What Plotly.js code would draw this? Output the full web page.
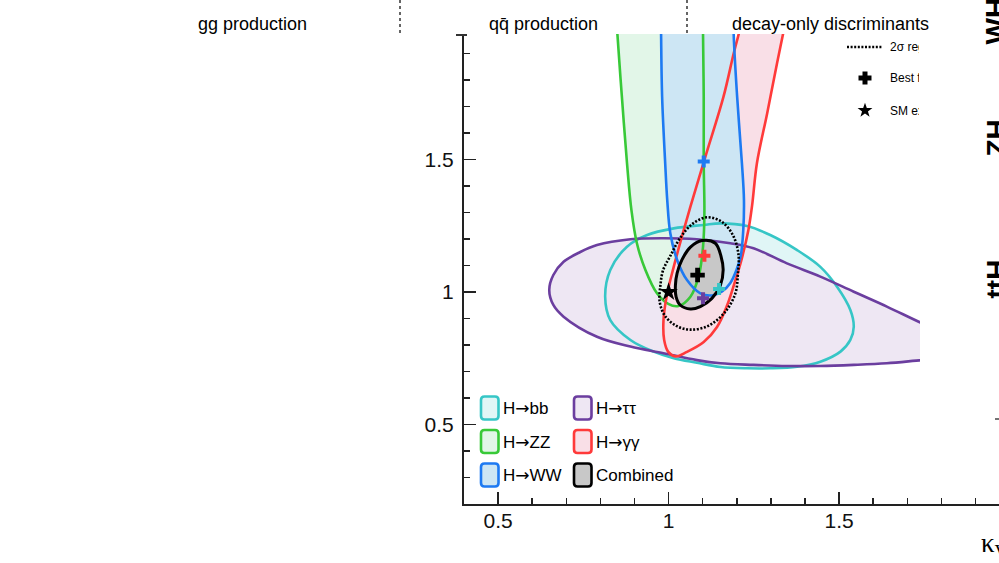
<!DOCTYPE html>
<html>
<head>
<meta charset="utf-8">
<script src="https://cdn.plot.ly/plotly-3.0.1.min.js"></script>
<style>
  html, body { margin: 0; padding: 0; background: #ffffff; }
  #chart { width: 999px; height: 563px; }
</style>
</head>
<body>
<div id="chart"></div>
<script>
// ---- 68% CL contours, one per decay channel (x = kappa_V, y = kappa_f) ----
const bbX = [0.814, 0.829, 0.878, 0.937, 1.015, 1.103, 1.152, 1.230, 1.298, 1.377, 1.445, 1.494, 1.533, 1.543, 1.533, 1.504, 1.445, 1.377, 1.298, 1.230, 1.152, 1.083, 1.015, 0.956, 0.888, 0.829];
const bbY = [0.982, 1.083, 1.171, 1.215, 1.240, 1.253, 1.259, 1.249, 1.215, 1.158, 1.095, 1.020, 0.932, 0.869, 0.819, 0.775, 0.737, 0.718, 0.712, 0.712, 0.717, 0.733, 0.750, 0.775, 0.819, 0.894];

const tautauX = [0.650, 0.662, 0.692, 0.741, 0.790, 0.888, 0.985, 1.083, 1.181, 1.249, 1.347, 1.445, 1.543, 1.640, 1.743, 1.855, 1.943, 1.855, 1.743, 1.640, 1.543, 1.445, 1.347, 1.249, 1.152, 1.083, 0.985, 0.888, 0.790, 0.692, 0.662];
const tautauY = [1.008, 1.064, 1.114, 1.151, 1.177, 1.199, 1.203, 1.199, 1.184, 1.165, 1.108, 1.058, 1.001, 0.945, 0.882, 0.819, 0.781, 0.755, 0.743, 0.731, 0.725, 0.721, 0.721, 0.725, 0.731, 0.743, 0.769, 0.794, 0.831, 0.907, 0.951];

const zzX = [0.845, 0.850, 0.863, 0.878, 0.891, 0.907, 0.932, 0.966, 0.999, 1.029, 1.064, 1.088, 1.098, 1.103, 1.105, 1.103, 1.103, 1.101, 1.100];
const zzY = [2.100, 1.970, 1.737, 1.486, 1.309, 1.184, 1.083, 0.995, 0.955, 0.947, 0.982, 1.058, 1.133, 1.209, 1.309, 1.486, 1.737, 1.970, 2.100];

const ggX = [1.233, 1.205, 1.191, 1.161, 1.108, 1.064, 1.039, 1.015, 0.995, 0.985, 0.987, 0.999, 1.020, 1.054, 1.103, 1.142, 1.172, 1.196, 1.215, 1.234, 1.245, 1.259, 1.289, 1.318, 1.335, 1.357];
const ggY = [2.100, 1.970, 1.901, 1.737, 1.511, 1.322, 1.209, 1.095, 0.989, 0.894, 0.819, 0.774, 0.757, 0.774, 0.811, 0.868, 0.951, 1.045, 1.128, 1.234, 1.328, 1.486, 1.674, 1.863, 1.970, 2.100];

const wwX = [0.977, 0.978, 0.981, 0.990, 0.996, 1.005, 1.025, 1.054, 1.093, 1.127, 1.157, 1.181, 1.199, 1.212, 1.219, 1.221, 1.215, 1.201, 1.191, 1.190];
const wwY = [2.100, 1.970, 1.737, 1.486, 1.347, 1.222, 1.121, 1.045, 0.995, 0.987, 1.002, 1.034, 1.083, 1.140, 1.234, 1.347, 1.486, 1.737, 1.970, 2.100];

const combX = [1.098, 1.137, 1.154, 1.160, 1.152, 1.127, 1.093, 1.064, 1.034, 1.022, 1.020, 1.025, 1.039, 1.064];
const combY = [1.194, 1.184, 1.133, 1.083, 1.026, 0.976, 0.945, 0.936, 0.951, 0.982, 1.026, 1.071, 1.121, 1.169];

// combined 2 sigma region
const comb2X = [1.113, 1.157, 1.190, 1.205, 1.203, 1.196, 1.166, 1.116, 1.064, 1.023, 0.990, 0.974, 0.976, 0.984, 1.005, 1.034, 1.070];
const comb2Y = [1.282, 1.264, 1.211, 1.140, 1.064, 0.996, 0.925, 0.872, 0.858, 0.872, 0.909, 0.962, 1.026, 1.083, 1.136, 1.204, 1.257];

// best-fit points per channel and combined, SM expectation
const bestNames = ['H→bb', 'H→ττ', 'H→γγ', 'H→WW', 'Combined'];
const bestX = [1.148, 1.101, 1.105, 1.103, 1.085];
const bestY = [1.011, 0.976, 1.137, 1.492, 1.064];
const smX = [1.0];
const smY = [1.0];

// axis ticks
const xTickVals = [0.5, 1, 1.5];
const xTickText = ['0.5', '1', '1.5'];
const yTickVals = [0.5, 1, 1.5];
const yTickText = ['0.5', '1', '1.5'];

// header columns
const headerLabels = ['gg production', 'qq\u0304 production', 'decay-only discriminants'];
const sideLabels = ['WH', 'ZH', 'ttH'];

// ---- styling ----
const COL = {
  bb:     { line: '#36c6c6', fill: '#e0f6f6' },
  tautau: { line: '#6b3e9f', fill: '#eee7f3' },
  zz:     { line: '#38c938', fill: '#e2f6e8' },
  gg:     { line: '#ff3a3a', fill: '#f9dfe7' },
  ww:     { line: '#1e7af2', fill: '#cde6f4' },
  comb:   { line: '#000000', fill: '#c8c8c8' }
};
const SANS = 'Liberation Sans, Arial, Helvetica, sans-serif';
const ARROW = '<span style="font-family:DejaVu Sans">→</span>';

// plot frame in pixels
const W = 999, H = 563;
const L = 464, R = 999, T = 34, B = 504;
const XR = [0.4, 0.4 + (R - L) / 341];
const YR = [0.2, 0.2 + (B - T) / 265];
const px = v => (v - L) / (R - L);
const py = v => (B - v) / (B - T);

const closed = a => a.concat([a[0]]);

const contours = [
  { x: bbX, y: bbY, c: COL.bb },
  { x: tautauX, y: tautauY, c: COL.tautau },
  { x: zzX, y: zzY, c: COL.zz },
  { x: ggX, y: ggY, c: COL.gg },
  { x: wwX, y: wwY, c: COL.ww },
  { x: combX, y: combY, c: COL.comb }
];

const traces = [];
// fills first so every outline stays visible
contours.forEach(k => traces.push({
  type: 'scatter', mode: 'lines', x: closed(k.x), y: closed(k.y),
  fill: 'toself', fillcolor: k.c.fill,
  line: { width: 0, shape: 'spline', smoothing: 1, color: k.c.fill },
  hoverinfo: 'skip'
}));
contours.slice(0, 5).forEach(k => traces.push({
  type: 'scatter', mode: 'lines', x: closed(k.x), y: closed(k.y),
  line: { width: 2.6, shape: 'spline', smoothing: 1, color: k.c.line },
  hoverinfo: 'skip'
}));
traces.push({
  type: 'scatter', mode: 'lines', x: closed(comb2X), y: closed(comb2Y),
  line: { width: 2.6, shape: 'spline', smoothing: 1, color: '#000', dash: '2px,1.6px' },
  hoverinfo: 'skip'
});
traces.push({
  type: 'scatter', mode: 'lines', x: closed(combX), y: closed(combY),
  line: { width: 3, shape: 'spline', smoothing: 1, color: '#000' },
  hoverinfo: 'skip'
});
const bestColors = [COL.bb.line, COL.tautau.line, COL.gg.line, COL.ww.line, '#000'];
traces.push({
  type: 'scatter', mode: 'markers', x: bestX, y: bestY, text: bestNames,
  marker: { symbol: 'cross', size: bestNames.map(n => n === 'Combined' ? 12 : 10), color: bestColors, opacity: 1, line: { width: 0 } },
  hoverinfo: 'text'
});
traces.push({
  type: 'scatter', mode: 'markers', x: smX, y: smY,
  marker: { symbol: 'star', size: 14, color: '#000', line: { width: 0 } },
  hoverinfo: 'skip'
});

// ---- decorations ----
const shapes = [];
const annotations = [];

// header: column titles separated by dotted rules
[252, 543, 830].forEach((cx, i) => annotations.push({
  xref: 'paper', yref: 'paper', x: px(cx), y: py(24), xanchor: 'center', yanchor: 'middle',
  text: headerLabels[i], showarrow: false, font: { family: SANS, size: 18, color: '#000' }
}));
[400, 687].forEach(sx => shapes.push({
  type: 'line', xref: 'paper', yref: 'paper', x0: px(sx), x1: px(sx), y0: py(0), y1: py(33),
  line: { color: '#333', width: 1.5, dash: 'dot' }
}));

// rounded legend swatch
function swatch(x0, y0, x1, y1, r) {
  const P = (x, y) => px(x).toFixed(5) + ',' + py(y).toFixed(5);
  return 'M' + P(x0 + r, y0) + 'L' + P(x1 - r, y0) + 'Q' + P(x1, y0) + ' ' + P(x1, y0 + r) +
         'L' + P(x1, y1 - r) + 'Q' + P(x1, y1) + ' ' + P(x1 - r, y1) +
         'L' + P(x0 + r, y1) + 'Q' + P(x0, y1) + ' ' + P(x0, y1 - r) +
         'L' + P(x0, y0 + r) + 'Q' + P(x0, y0) + ' ' + P(x0 + r, y0) + 'Z';
}
const legendItems = [
  { t: 'H' + ARROW + 'bb', c: COL.bb, col: 0, row: 0 },
  { t: 'H' + ARROW + 'ZZ', c: COL.zz, col: 0, row: 1 },
  { t: 'H' + ARROW + 'WW', c: COL.ww, col: 0, row: 2 },
  { t: 'H' + ARROW + 'ττ', c: COL.tautau, col: 1, row: 0 },
  { t: 'H' + ARROW + 'γγ', c: COL.gg, col: 1, row: 1 },
  { t: 'Combined', c: COL.comb, col: 1, row: 2 }
];
const colX = [481, 574], rowY = [408, 441.5, 475];
legendItems.forEach(it => {
  const x0 = colX[it.col], yc = rowY[it.row];
  shapes.push({
    type: 'path', xref: 'paper', yref: 'paper', path: swatch(x0, yc - 11.5, x0 + 17.5, yc + 11.5, 3.5),
    fillcolor: it.c.fill, line: { color: it.c.line, width: 2.6 }
  });
  annotations.push({
    xref: 'paper', yref: 'paper', x: px(x0 + 20), y: py(yc), xanchor: 'left', yanchor: 'middle',
    text: it.t, showarrow: false, font: { family: SANS, size: 17, color: '#000' }
  });
});

// second legend: 2 sigma region, best fit, SM
shapes.push({
  type: 'line', xref: 'paper', yref: 'paper', x0: px(847), x1: px(883), y0: py(47), y1: py(47),
  line: { color: '#000', width: 2.5, dash: '2px,1.6px' }
});
shapes.push({ type: 'rect', xref: 'paper', yref: 'paper', x0: px(858.5), x1: px(871.5), y0: py(75.5), y1: py(80.5), fillcolor: '#000', line: { width: 0 } });
shapes.push({ type: 'rect', xref: 'paper', yref: 'paper', x0: px(862.5), x1: px(867.5), y0: py(71.5), y1: py(84.5), fillcolor: '#000', line: { width: 0 } });
(function () {
  const cx = 865, cy = 110.5, ro = 7.8, ri = 3.1;
  let p = '';
  for (let i = 0; i < 10; i++) {
    const r = i % 2 ? ri : ro;
    const a = -Math.PI / 2 + i * Math.PI / 5;
    p += (i ? 'L' : 'M') + px(cx + r * Math.cos(a)).toFixed(5) + ',' + py(cy + r * Math.sin(a)).toFixed(5);
  }
  shapes.push({ type: 'path', xref: 'paper', yref: 'paper', path: p + 'Z', fillcolor: '#000', line: { width: 0 } });
})();

// plot area to the right of the panel edge is blank
shapes.push({
  type: 'rect', xref: 'paper', yref: 'paper', layer: 'above', x0: px(920), x1: px(1010), y0: py(T - 2), y1: py(495),
  fillcolor: '#ffffff', line: { width: 0 }
});
shapes.push({ type: 'line', xref: 'paper', yref: 'paper', x0: px(995), x1: px(1001), y0: py(419), y1: py(419), line: { color: '#444', width: 1.5 } });
shapes.push({ type: 'line', xref: 'paper', yref: 'paper', x0: px(456), x1: px(467), y0: py(35), y1: py(35), line: { color: '#333', width: 2 } });

[['2σ region', 47], ['Best fit', 78], ['SM expected', 110.5]].forEach(([t, yy]) => annotations.push({
  xref: 'paper', yref: 'paper', x: px(889), y: py(yy), xanchor: 'left', yanchor: 'middle',
  width: 29, align: 'left', borderpad: 0,
  text: t, showarrow: false, font: { family: SANS, size: 12, color: '#000' }
}));

// production-mode labels of the neighbouring panel
[21, 138, 279].forEach((cy, i) => annotations.push({
  xref: 'paper', yref: 'paper', x: px(978), y: py(cy), xanchor: 'left', yanchor: 'middle',
  textangle: -90, text: '<b>' + sideLabels[i] + '</b>', showarrow: false,
  font: { family: SANS, size: 28, color: '#000' }
}));

// x-axis title
annotations.push({
  xref: 'paper', yref: 'paper', x: px(979), y: py(545), xanchor: 'left', yanchor: 'middle',
  text: 'κ<sub>V</sub>', showarrow: false, font: { family: 'Liberation Serif, Times New Roman, serif', size: 27, color: '#000' }
});

const axisCommon = {
  ticks: 'inside', ticklen: 12, tickwidth: 1.5, tickcolor: '#222',
  showline: true, linecolor: '#222', linewidth: 2, mirror: false,
  showgrid: false, zeroline: false, fixedrange: true,
  tickfont: { family: SANS, size: 21, color: '#111' },
  minor: { tickmode: 'linear', tick0: 0, dtick: 0.1, ticks: 'inside', ticklen: 6, tickwidth: 1.5, tickcolor: '#222', showgrid: false }
};

const layout = {
  width: W, height: H,
  margin: { l: L, r: W - R, t: T, b: H - B, pad: 0 },
  paper_bgcolor: '#ffffff', plot_bgcolor: '#ffffff',
  showlegend: false,
  xaxis: Object.assign({}, axisCommon, { range: XR, tickmode: 'array', tickvals: xTickVals, ticktext: xTickText, ticklabelstandoff: -3 }),
  yaxis: Object.assign({}, axisCommon, { range: YR, tickmode: 'array', tickvals: yTickVals, ticktext: yTickText, ticklabelstandoff: 4 }),
  shapes: shapes,
  annotations: annotations
};

Plotly.newPlot('chart', traces, layout, { displayModeBar: false, staticPlot: true });
</script>
</body>
</html>
